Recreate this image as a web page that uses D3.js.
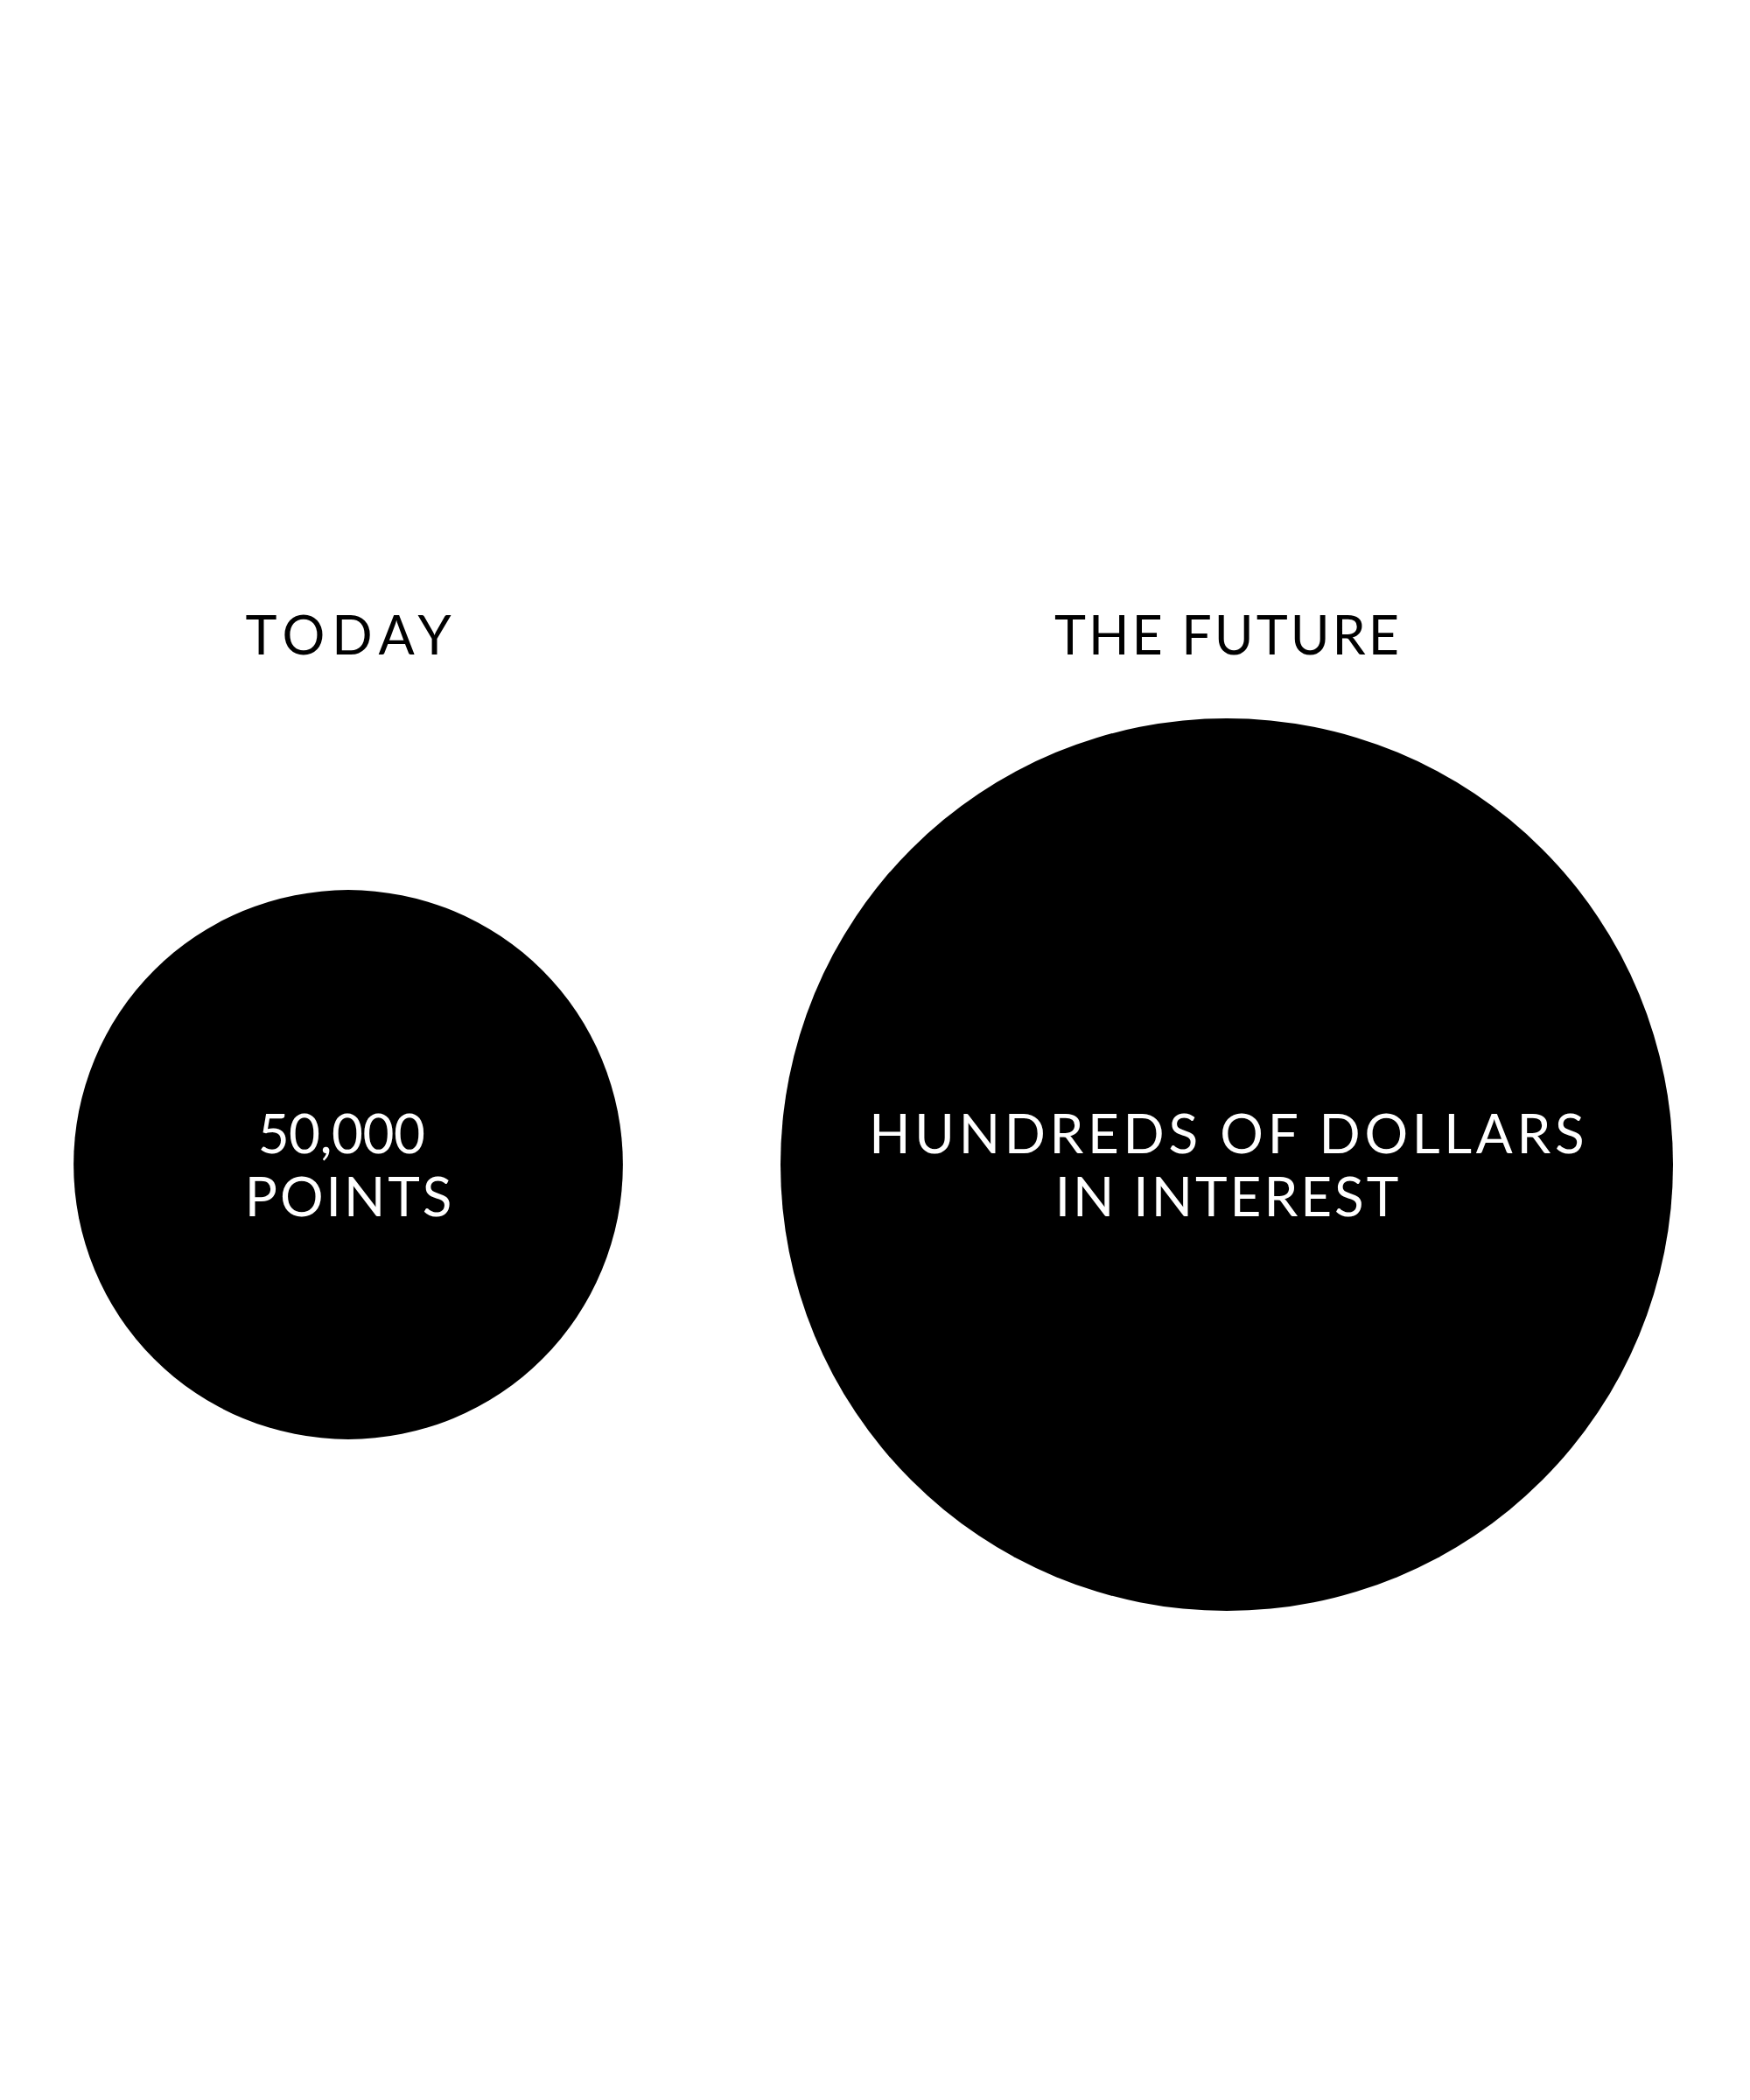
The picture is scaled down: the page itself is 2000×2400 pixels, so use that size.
<!DOCTYPE html>
<html>
<head>
<meta charset="utf-8">
<script src="https://cdn.jsdelivr.net/npm/d3@7"></script>
<style>
  html, body { margin: 0; padding: 0; background: #fff; }
  svg { display: block; }
  text { font-family: Lato, "Open Sans", sans-serif; }
</style>
</head>
<body>
<svg id="chart" width="2000" height="2400"></svg>
<script>
// ---- data ----
const categories = ["TODAY", "THE FUTURE"];
const values = [1, 2.64];            // relative size of each circle (area)
const innerLine1 = ["50,000 ", "HUNDREDS OF DOLLARS"];
const innerLine2 = ["POINTS", "IN INTEREST"];

// ---- layout ----
const W = 2000, H = 2400;
const cy = 1331;
const headSpacing = [8, 3];
const line1Spacing = [-0.5, 4.7];
const line2Spacing = [3, 3];

const svg = d3.select("#chart");
svg.append("rect").attr("width", W).attr("height", H).attr("fill", "#fff");

const x = d3.scalePoint().domain(categories).range([398, 1402]);
const r = d3.scaleSqrt().domain([0, d3.max(values)]).range([0, 510]);

const data = categories.map((c, i) => ({ c, i, v: values[i], l1: innerLine1[i], l2: innerLine2[i] }));

const g = svg.append("g");

g.selectAll("circle").data(data).join("circle")
  .attr("cx", d => x(d.c))
  .attr("cy", cy)
  .attr("r", d => r(d.v))
  .attr("fill", "#000");

// headings
g.selectAll("text.head").data(data).join("text")
  .attr("class", "head")
  .attr("x", d => x(d.c) + headSpacing[d.i] / 2)
  .attr("y", 748)
  .attr("text-anchor", "middle")
  .attr("font-size", 61)
  .attr("letter-spacing", d => headSpacing[d.i])
  .attr("fill", "#000")
  .text(d => d.c);

// inner labels
g.selectAll("text.l1").data(data).join("text")
  .attr("class", "l1")
  .attr("x", d => x(d.c) + line1Spacing[d.i] / 2)
  .attr("y", cy - 13)
  .attr("text-anchor", "middle")
  .attr("font-size", 62)
  .attr("letter-spacing", d => line1Spacing[d.i])
  .attr("fill", "#fff")
  .style("white-space", "pre")
  .text(d => d.l1);

g.selectAll("text.l2").data(data).join("text")
  .attr("class", "l2")
  .attr("x", d => x(d.c) + line2Spacing[d.i] / 2)
  .attr("y", cy + 59)
  .attr("text-anchor", "middle")
  .attr("font-size", 62)
  .attr("letter-spacing", d => line2Spacing[d.i])
  .attr("fill", "#fff")
  .text(d => d.l2);
</script>
</body>
</html>
